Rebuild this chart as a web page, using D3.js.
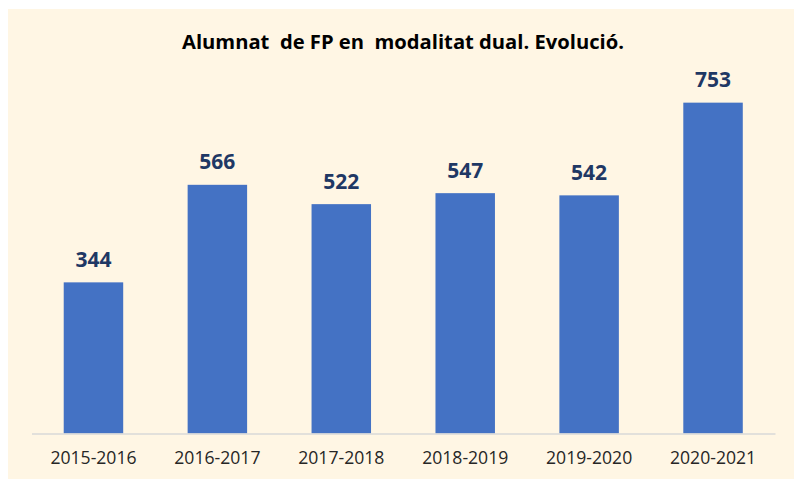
<!DOCTYPE html>
<html>
<head>
<meta charset="utf-8">
<script src="https://cdn.jsdelivr.net/npm/d3@7"></script>
<style>
  html, body { margin: 0; padding: 0; background: #fff; }
  svg { display: block; }
</style>
</head>
<body>
<svg id="chart" width="794" height="479"></svg>
<script>
// data
const titleText = "Alumnat  de FP en  modalitat dual. Evolució.";
const courses = ["2015-2016", "2016-2017", "2017-2018", "2018-2019", "2019-2020", "2020-2021"];
const students = [344, 566, 522, 547, 542, 753];
const yMax = 800;

const svg = d3.select("#chart");

// background panel
svg.append("rect")
  .attr("x", 8).attr("y", 9)
  .attr("width", 786).attr("height", 470)
  .attr("fill", "#FFF6E4");

// scales
const xScale = d3.scaleBand()
  .domain(courses)
  .range([31.5, 775])
  .paddingInner(0.52)
  .paddingOuter(0.26);

const yScale = d3.scaleLinear()
  .domain([0, yMax])
  .range([433.5, 82]);

// title
svg.append("text")
  .attr("x", 403)
  .attr("y", 49)
  .attr("text-anchor", "middle")
  .style("white-space", "pre")
  .attr("font-family", "Open Sans")
  .attr("font-weight", "bold")
  .attr("font-size", 20.2)
  .attr("fill", "#000")
  .text(titleText);

// bars
svg.append("g")
  .selectAll("rect")
  .data(students)
  .join("rect")
  .attr("x", (d, i) => xScale(courses[i]))
  .attr("y", d => yScale(d))
  .attr("width", xScale.bandwidth())
  .attr("height", d => yScale(0) - yScale(d))
  .attr("fill", "#4472C4");

// value labels
svg.append("g")
  .selectAll("text")
  .data(students)
  .join("text")
  .attr("x", (d, i) => xScale(courses[i]) + xScale.bandwidth() / 2)
  .attr("y", d => yScale(d) - 15.5)
  .attr("text-anchor", "middle")
  .attr("font-family", "Open Sans")
  .attr("font-weight", "bold")
  .attr("font-size", 21)
  .attr("fill", "#1F3864")
  .text(d => d);

// x axis
const xAxis = d3.axisBottom(xScale).tickSize(0).tickPadding(18);
const gx = svg.append("g")
  .attr("transform", `translate(0,${yScale(0)})`)
  .call(xAxis);
gx.select(".domain").attr("stroke", "#D9D9D9").attr("stroke-width", 1.5);
gx.selectAll("text")
  .attr("font-family", "Open Sans")
  .attr("font-size", 17.6)
  .attr("fill", "#262626");
</script>
</body>
</html>
